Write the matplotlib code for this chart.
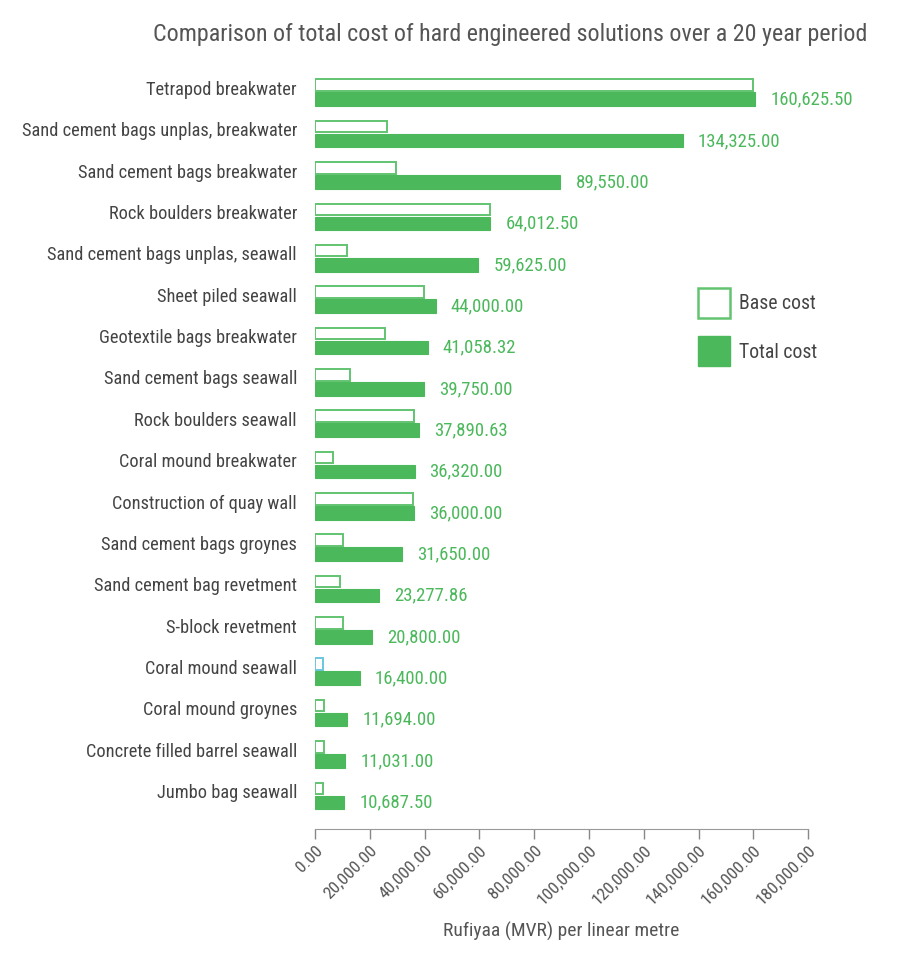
import matplotlib
matplotlib.use("Agg")
import matplotlib.pyplot as plt
from matplotlib.patches import Patch
from matplotlib.ticker import FuncFormatter

plt.rcParams['font.family'] = ['Roboto Condensed', 'Liberation Sans Narrow', 'Roboto', 'DejaVu Sans']

# data
categories = [
    "Tetrapod breakwater",
    "Sand cement bags unplas, breakwater",
    "Sand cement bags breakwater",
    "Rock boulders breakwater",
    "Sand cement bags unplas, seawall",
    "Sheet piled seawall",
    "Geotextile bags breakwater",
    "Sand cement bags seawall",
    "Rock boulders seawall",
    "Coral mound breakwater",
    "Construction of quay wall",
    "Sand cement bags groynes",
    "Sand cement bag revetment",
    "S-block revetment",
    "Coral mound seawall",
    "Coral mound groynes",
    "Concrete filled barrel seawall",
    "Jumbo bag seawall",
]
total_cost = [160625.50, 134325.00, 89550.00, 64012.50, 59625.00, 44000.00,
              41058.32, 39750.00, 37890.63, 36320.00, 36000.00, 31650.00,
              23277.86, 20800.00, 16400.00, 11694.00, 11031.00, 10687.50]
base_cost = [160000, 26400, 29700, 63700, 11700, 39700,
             25400, 12900, 36000, 6600, 35700, 10100,
             9100, 10200, 3000, 3400, 3400, 2900]
xticks = [0, 20000, 40000, 60000, 80000, 100000, 120000, 140000, 160000, 180000]

green = '#4bb85b'
light_green = '#62c471'
grey = '#555555'

fig = plt.figure(figsize=(9.04, 9.65), dpi=100)
ax = fig.add_axes([0.3485, 0.1409, 0.5454, 0.7847])

pos = list(range(len(categories)))
edge = [light_green] * len(categories)
edge[categories.index("Coral mound seawall")] = '#6cc5dc'

ax.barh([p - 0.175 for p in pos], base_cost, height=0.28,
        color='white', edgecolor=edge, linewidth=1.4, zorder=2)
ax.barh([p + 0.165 for p in pos], total_cost, height=0.33,
        color=green, edgecolor=green, linewidth=0.8, zorder=3)

for p, v in zip(pos, total_cost):
    ax.text(v + 5500, p + 0.17, f"{v:,.2f}", color=green, fontsize=13.5,
            va='center', ha='left')

ax.set_ylim(17.81, -0.5)
ax.set_xlim(0, 180000)
ax.set_yticks([p - 0.11 for p in pos])
ax.set_yticklabels(categories, fontsize=13.2, color='#444444')
ax.tick_params(axis='y', length=0, pad=13)
ax.set_xticks(xticks)
ax.xaxis.set_major_formatter(FuncFormatter(lambda x, _: f"{x:,.2f}"))
ax.tick_params(axis='x', colors='#888888', labelcolor=grey, labelsize=12.5,
               length=7, width=1, labelrotation=45, pad=3)
plt.setp(ax.get_xticklabels(), ha='right', rotation_mode='anchor')

for s in ['top', 'right', 'left']:
    ax.spines[s].set_visible(False)
ax.spines['bottom'].set_color('#999999')

ax.set_xlabel("Rufiyaa (MVR) per linear metre", fontsize=14, color=grey, labelpad=10)
fig.text(0.564, 0.964, "Comparison of total cost of hard engineered solutions over a 20 year period",
         ha='center', va='center', fontsize=17.25, color=grey)

handles = [Patch(facecolor='white', edgecolor=light_green, linewidth=1.8, label='Base cost'),
           Patch(facecolor=green, edgecolor=green, label='Total cost')]
fig.legend(handles=handles, loc='upper left', bbox_to_anchor=(0.757, 0.716),
           frameon=False, fontsize=14.2, labelcolor='#444444', borderpad=0.2,
           handlelength=1.6, handleheight=1.95, labelspacing=0.95, handletextpad=0.45)

fig.savefig('out.png', dpi=100)
